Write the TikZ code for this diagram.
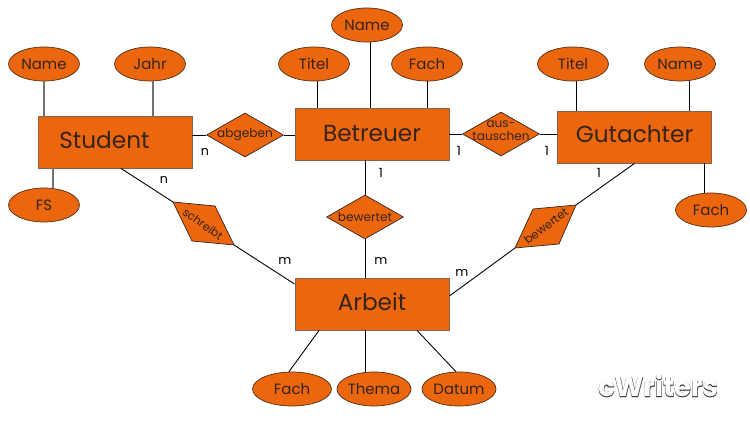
\documentclass[tikz,border=0pt]{standalone}
\usepackage{fontspec}
\setmainfont{Poppins}
\newfontfamily\halowide[UprightFont=* Bold,FakeBold=4]{Poppins}
\newfontfamily\halonarrow[UprightFont=* Bold,FakeBold=2]{Poppins}
\usetikzlibrary{shapes.geometric}
\definecolor{ocre}{RGB}{236,102,14}
\definecolor{edgeo}{RGB}{132,100,76}
\definecolor{inko}{RGB}{52,36,26}
\tikzset{
  entity/.style={draw=edgeo,line width=0.5pt,fill=ocre,text=inko,inner sep=0pt,minimum width=3.08cm,minimum height=1.04cm,font=\fontsize{13.2}{15}\selectfont},
  attrib/.style={draw=inko!85!ocre,line width=0.4pt,fill=ocre,text=inko,shape=ellipse,inner sep=0pt,minimum width=1.42cm,minimum height=0.68cm,font=\fontsize{8.5}{10}\selectfont},
  relship/.style={draw=inko,line width=0.4pt,fill=ocre,shape=diamond,inner sep=0pt,minimum width=1.54cm,minimum height=0.88cm},
  reltext/.style={text=inko,inner sep=0pt,font=\fontsize{6.9}{7.6}\selectfont,align=center},
  card/.style={inner sep=0pt,text=black,font=\fontsize{7.2}{9}\selectfont},
  link/.style={draw=black,line width=0.5pt},
  glink/.style={draw=black!55,line width=0.7pt}
}
\begin{document}
\begin{tikzpicture}[x=0.02cm,y=-0.02cm]
\useasboundingbox (0,0) rectangle (750,422);
\node [entity] (student) at (115,142) {\raisebox{2.2pt}{Student\kern 12pt}};
\node [entity] (betreuer) at (372,134) {Betreuer};
\node [entity] (gutachter) at (634.5,137) {\raisebox{3.4pt}{Gutachter}};
\node [entity] (arbeit) at (372,304) {\raisebox{2.2pt}{Arbeit}};
\node [attrib] (nameS) at (44,64) {Name};
\node [attrib] (jahrS) at (150,64) {Jahr};
\node [attrib] (fsS) at (44,205) {FS};
\node [attrib] (titelB) at (314,64) {Titel};
\node [attrib] (nameB) at (367,25) {Name};
\node [attrib] (fachB) at (427,64) {Fach};
\node [attrib] (titelG) at (573,64) {Titel};
\node [attrib] (nameG) at (680,64) {Name};
\node [attrib] (fachG) at (711,210) {Fach};
\node [attrib,minimum width=1.58cm] (fachA) at (292,389) {Fach};
\node [attrib,minimum width=1.48cm] (themaA) at (374,389) {Thema};
\node [attrib,minimum width=1.48cm] (datumA) at (459,389) {Datum};
\node [relship,label={[reltext]center:abgeben}] (abgeben) at (245,135) {};
\node [relship,label={[reltext,yshift=0.07cm]center:{aus-\\tauschen}}] (tauschen) at (501,134) {};
\node [relship,label={[reltext]center:bewertet}] (bewertetB) at (365,217) {};
\coordinate (schA) at (173,202);
\coordinate (schB) at (215,206);
\coordinate (schC) at (234,245);
\coordinate (schD) at (192,241);
\coordinate (bewA) at (515,248);
\coordinate (bewB) at (533,209);
\coordinate (bewC) at (576,205);
\coordinate (bewD) at (559,244);
\draw [draw=inko,line width=0.4pt,fill=ocre] (schA)--(schB)--(schC)--(schD)--cycle;
\draw [draw=inko,line width=0.4pt,fill=ocre] (bewA)--(bewB)--(bewC)--(bewD)--cycle;
\node [reltext,font=\fontsize{6.4}{7.6}\selectfont,rotate=-35] (schreibt) at (203,224) {schreibt};
\node [reltext,font=\fontsize{6.6}{7.6}\selectfont,rotate=37] (bewertetG) at (546,226) {bewertet};
\draw [glink] (nameS.south) -- (nameS.south |- student.north);
\draw [glink] (jahrS.280) -- (jahrS.280 |- student.north);
\draw [glink] (fsS.62) -- (fsS.62 |- student.south);
\draw [link] (titelB.280) -- (titelB.280 |- betreuer.north);
\draw [link] (nameB.280) -- (nameB.280 |- betreuer.north);
\draw [link] (fachB.south) -- (fachB.south |- betreuer.north);
\draw [link] (titelG.280) -- (titelG.280 |- gutachter.north);
\draw [link] (nameG.300) -- (nameG.300 |- gutachter.north);
\draw [link] (fachG.110) -- (fachG.110 |- gutachter.south);
\draw [link] (abgeben.west) -- (abgeben.west -| student.east);
\draw [link] (abgeben.east) -- (abgeben.east -| betreuer.west);
\draw [link] (tauschen.west) -- (tauschen.west -| betreuer.east);
\draw [link] (tauschen.east) -- (tauschen.east -| gutachter.west);
\draw [link] (bewertetB.north) -- (bewertetB.north |- betreuer.south);
\draw [link] (bewertetB.south) -- (bewertetB.south |- arbeit.north);
\draw [link] ([xshift=0.12cm]student.south) -- (schA);
\draw [link] (schC) -- ([yshift=0.4cm]arbeit.west);
\draw [link] (bewA) -- ([yshift=0.16cm]arbeit.east);
\draw [link] (bewC) -- (gutachter.south);
\draw [link] ([xshift=-1.06cm]arbeit.south) -- (fachA.100);
\draw [link] (bewertetB.south |- arbeit.south) -- (bewertetB.south |- themaA.north);
\draw [link] ([xshift=0.9cm]arbeit.south) -- (datumA.100);
\node [card] (cardA) at (205,152) {n};
\node [card] (cardB) at (164,180) {n};
\node [card] (cardC) at (459,151) {1};
\node [card] (cardD) at (547,151) {1};
\node [card] (cardE) at (381,173) {1};
\node [card] (cardF) at (381,261) {m};
\node [card] (cardG) at (285,261) {m};
\node [card] (cardH) at (462,273) {m};
\node [card] (cardI) at (599,173) {1};
\node [text=black,opacity=0.3,inner sep=0pt,font=\halowide\fontsize{15.5}{17}\selectfont] (markA) at (658,386) {cWriters};
\node [text=black,opacity=0.45,inner sep=0pt,font=\halonarrow\fontsize{15.5}{17}\selectfont] (markB) at (658,386) {cWriters};
\node [text=white,inner sep=0pt,font=\fontsize{15.5}{17}\selectfont\bfseries] (mark) at (658,386) {cWriters};
\end{tikzpicture}
\end{document}
